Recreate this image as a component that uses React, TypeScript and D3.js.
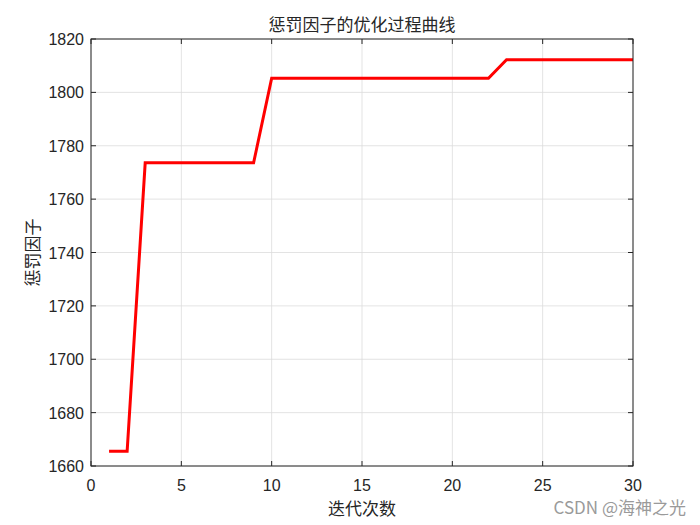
import React from "react";
import * as d3 from "d3";

const iterations = Array.from({ length: 30 }, (_, i) => i + 1);
const penaltyValues = [
  1665.5, 1665.5, 1773.6, 1773.6, 1773.6, 1773.6, 1773.6, 1773.6, 1773.6,
  1805.3, 1805.3, 1805.3, 1805.3, 1805.3, 1805.3, 1805.3, 1805.3, 1805.3,
  1805.3, 1805.3, 1805.3, 1805.3, 1812.2, 1812.2, 1812.2, 1812.2, 1812.2,
  1812.2, 1812.2, 1812.2,
];
const xTicks = [0, 5, 10, 15, 20, 25, 30];
const yTicks = [1660, 1680, 1700, 1720, 1740, 1760, 1780, 1800, 1820];
const title = "惩罚因子的优化过程曲线";
const xLabel = "迭代次数";
const yLabel = "惩罚因子";
const watermark = "CSDN @海神之光";

export default function App() {
  const W = 700, H = 525;
  const L = 91, R = 633, T = 39, B = 466;
  const x = d3.scaleLinear().domain([0, 30]).range([L, R]);
  const y = d3.scaleLinear().domain([1660, 1820]).range([B, T]);
  const line = d3
    .line<number>()
    .x((_, i) => x(iterations[i]))
    .y((d) => y(d));
  const tickFont = "'Liberation Sans', Arial, sans-serif";
  const cjk = "'Noto Sans CJK SC', sans-serif";
  return (
    <svg width={W} height={H} style={{ position: "absolute", left: 0, top: 0, background: "#fff" }}>
      <rect x={0} y={0} width={W} height={H} fill="#fff" />
      <rect x={L} y={T} width={R - L} height={B - T} fill="#fff" />
      {xTicks.map((t) => (
        <line key={"gx" + t} x1={x(t)} x2={x(t)} y1={T} y2={B} stroke="#dcdcdc" strokeWidth={0.8} />
      ))}
      {yTicks.map((t) => (
        <line key={"gy" + t} x1={L} x2={R} y1={y(t)} y2={y(t)} stroke="#dcdcdc" strokeWidth={0.8} />
      ))}
      <path d={line(penaltyValues) || ""} fill="none" stroke="#ff0000" strokeWidth={3} strokeLinejoin="miter" />
      <rect x={L} y={T} width={R - L} height={B - T} fill="none" stroke="#262626" strokeWidth={1} />
      {xTicks.map((t) => (
        <g key={"tx" + t}>
          <line x1={x(t)} x2={x(t)} y1={B} y2={B - 5} stroke="#262626" />
          <line x1={x(t)} x2={x(t)} y1={T} y2={T + 5} stroke="#262626" />
          <text x={x(t)} y={B + 25} textAnchor="middle" fontFamily={tickFont} fontSize={16} fill="#262626">
            {t}
          </text>
        </g>
      ))}
      {yTicks.map((t) => (
        <g key={"ty" + t}>
          <line x1={L} x2={L + 5} y1={y(t)} y2={y(t)} stroke="#262626" />
          <line x1={R} x2={R - 5} y1={y(t)} y2={y(t)} stroke="#262626" />
          <text x={L - 7} y={y(t) + 6} textAnchor="end" fontFamily={tickFont} fontSize={16} fill="#262626">
            {t}
          </text>
        </g>
      ))}
      <text x={(L + R) / 2} y={31} textAnchor="middle" fontFamily={cjk} fontSize={17} fill="#262626">
        {title}
      </text>
      <text x={(L + R) / 2} y={515} textAnchor="middle" fontFamily={cjk} fontSize={17} fill="#262626">
        {xLabel}
      </text>
      <text
        transform={`translate(39, ${(T + B) / 2}) rotate(-90)`}
        textAnchor="middle"
        fontFamily={cjk}
        fontSize={17}
        fill="#262626"
      >
        {yLabel}
      </text>
      <text x={686} y={514} textAnchor="end" fontFamily={cjk} fontSize={17} fill="#9a9a9a">
        {watermark}
      </text>
    </svg>
  );
}
